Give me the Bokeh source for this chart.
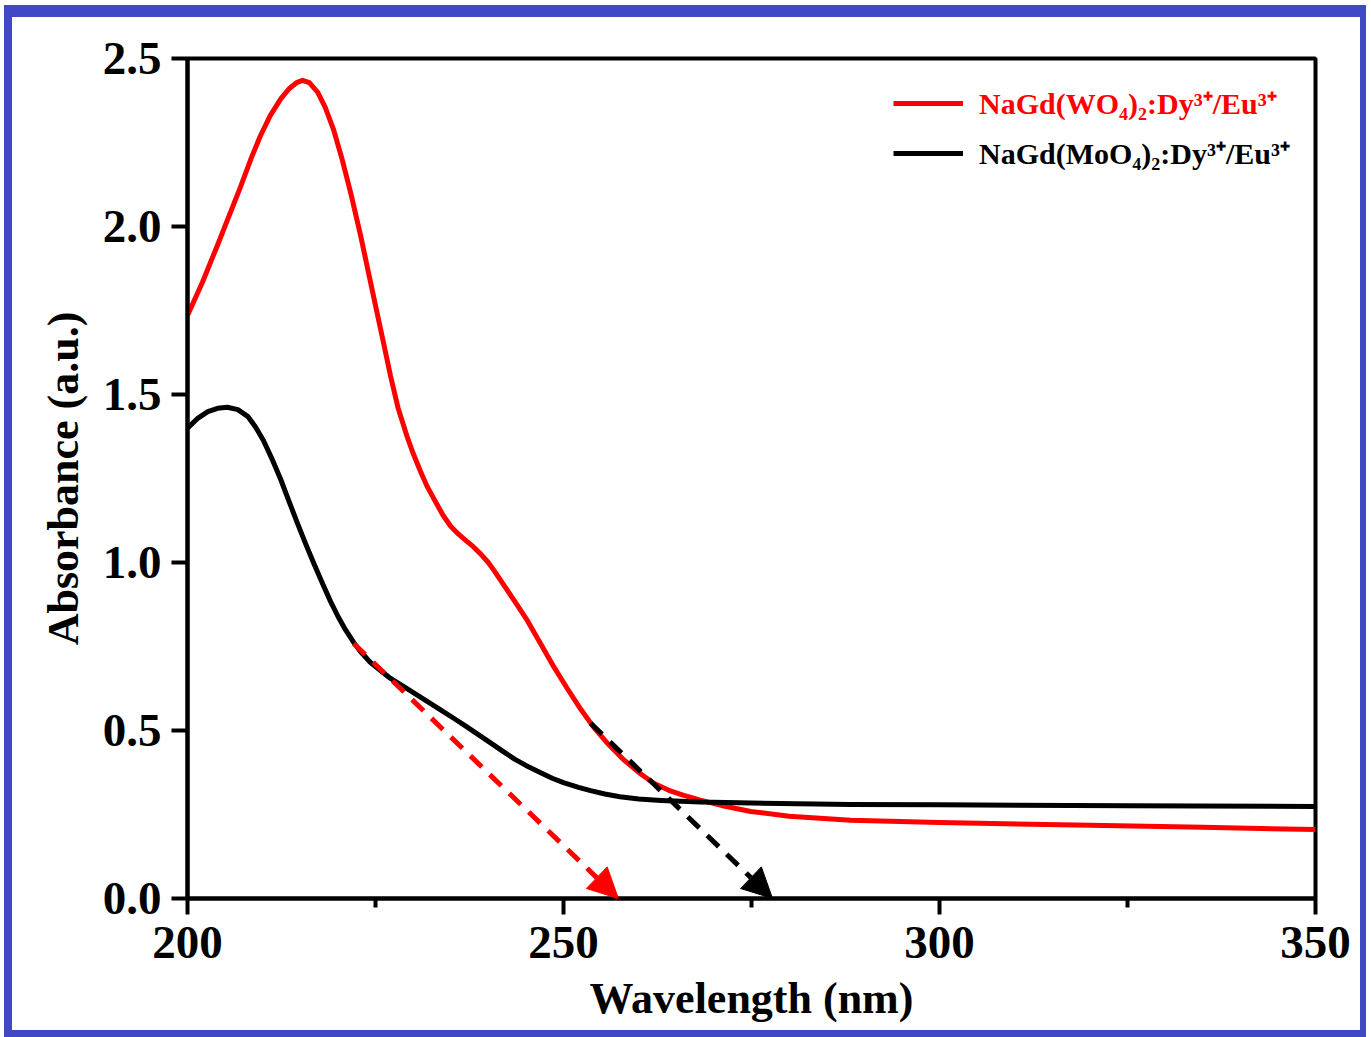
from bokeh.plotting import figure
from bokeh.models import (ColumnDataSource, Range1d, Legend, LegendItem, Arrow,
                          NormalHead, FixedTicker, NumeralTickFormatter)
from bokeh.embed import file_html
from bokeh.resources import INLINE

# ---------------- data ----------------
wl_w = [200.0, 202.0, 204.0, 205.5, 207.0, 208.5, 209.7, 211.0, 212.4, 213.5,
        214.5, 215.3, 216.2, 217.3, 218.3, 219.4, 220.5, 221.7, 223.0, 224.0,
        225.0, 226.1, 227.0, 228.0, 229.2, 230.0, 231.0, 231.9, 233.0, 234.0,
        235.0, 236.0, 237.0, 238.0, 239.0, 240.0, 240.8, 241.6, 243.5, 245.2,
        247.0, 248.7, 250.5, 252.3, 254.0, 255.8, 258.0, 260.2, 262.0, 264.0,
        266.0, 268.2, 271.0, 274.9, 280.0, 288.2, 300.0, 320.0, 335.0, 350.0]
abs_w = [1.735, 1.835, 1.945, 2.03, 2.115, 2.205, 2.27, 2.33, 2.38, 2.41,
         2.428, 2.435, 2.428, 2.40, 2.355, 2.29, 2.205, 2.10, 1.975, 1.87,
         1.765, 1.65, 1.555, 1.46, 1.375, 1.325, 1.27, 1.225, 1.18, 1.14,
         1.108, 1.085, 1.066, 1.047, 1.025, 1.0, 0.975, 0.948, 0.885, 0.827,
         0.757, 0.69, 0.625, 0.563, 0.51, 0.463, 0.413, 0.372, 0.343, 0.322,
         0.307, 0.293, 0.277, 0.259, 0.245, 0.233, 0.226, 0.218, 0.212, 0.205]

wl_mo = [200.0, 201.3, 202.7, 204.0, 205.3, 206.7, 208.0, 209.0, 210.1, 211.2,
         212.4, 213.5, 214.6, 215.7, 216.8, 218.0, 219.0, 220.0, 221.0, 222.1,
         223.0, 224.3, 225.7, 227.0, 229.3, 231.5, 233.6, 235.5, 237.0, 240.3,
         242.0, 243.5, 245.0, 246.9, 248.5, 250.0, 252.0, 253.6, 255.5, 257.5,
         260.0, 263.0, 268.2, 275.0, 288.2, 300.0, 325.0, 350.0]
abs_mo = [1.400, 1.428, 1.449, 1.459, 1.462, 1.455, 1.435, 1.405, 1.363, 1.31,
          1.247, 1.182, 1.118, 1.056, 0.997, 0.935, 0.885, 0.84, 0.80, 0.762,
          0.735, 0.703, 0.678, 0.655, 0.623, 0.592, 0.562, 0.535, 0.513, 0.463,
          0.437, 0.415, 0.396, 0.375, 0.358, 0.345, 0.331, 0.321, 0.311, 0.303,
          0.296, 0.292, 0.287, 0.284, 0.280, 0.279, 0.276, 0.274]

series_labels = ["NaGd(WO\u2084)\u2082:Dy\u00b3\u207a/Eu\u00b3\u207a",
                 "NaGd(MoO\u2084)\u2082:Dy\u00b3\u207a/Eu\u00b3\u207a"]
series_colors = ["#ff0000", "#000000"]

# tangent (band-gap extrapolation) arrows
arrow_x_start = [222.1, 253.6]
arrow_y_start = [0.759, 0.522]
arrow_x_end = [257.3, 277.8]
arrow_y_end = [0.0, 0.0]

x_ticks = [200, 250, 300, 350]
x_minor_ticks = [225, 275, 325]
y_ticks = [0.0, 0.5, 1.0, 1.5, 2.0, 2.5]

FONT = "Liberation Serif"

# ---------------- figure ----------------
p = figure(width=1348, height=1013, output_backend="svg", toolbar_location=None,
           x_range=Range1d(200, 350), y_range=Range1d(0, 2.5),
           min_border_left=175, min_border_right=59, min_border_top=41,
           min_border_bottom=151)
p.styles = {"box-sizing": "content-box",
            "border-left": "8px solid #4048c8", "border-right": "6px solid #4048c8",
            "border-top": "12px solid #4048c8", "border-bottom": "7px solid #4048c8",
            "margin-left": "4px", "margin-top": "5px"}
p.background_fill_color = "white"
p.border_fill_color = "white"
p.grid.visible = False
p.outline_line_color = "black"
p.outline_line_width = 4
p.outline_line_alpha = 1.0

src_w = ColumnDataSource(dict(x=wl_w, y=abs_w))
src_mo = ColumnDataSource(dict(x=wl_mo, y=abs_mo))
r_w = p.line("x", "y", source=src_w, line_color=series_colors[0], line_width=5,
             line_join="round")
r_mo = p.line("x", "y", source=src_mo, line_color=series_colors[1], line_width=5,
              line_join="round")

for i in range(2):
    head = NormalHead(size=30, fill_color=series_colors[i], line_color=series_colors[i],
                      line_width=1)
    p.add_layout(Arrow(end=head, x_start=arrow_x_start[i], y_start=arrow_y_start[i],
                       x_end=arrow_x_end[i], y_end=arrow_y_end[i],
                       line_color=series_colors[i], line_width=5, line_dash="16 11"))

# axes
for ax in (p.xaxis[0], p.yaxis[0]):
    ax.axis_line_width = 4
    ax.major_tick_line_width = 4
    ax.minor_tick_line_width = 4
    ax.major_tick_in = 0
    ax.major_tick_out = 16
    ax.minor_tick_in = 0
    ax.minor_tick_out = 9
    ax.major_label_text_font = FONT
    ax.major_label_text_font_style = "bold"
    ax.major_label_text_font_size = "47px"
    ax.major_label_text_color = "black"
    ax.axis_label_text_font = FONT
    ax.axis_label_text_font_style = "bold"
    ax.axis_label_text_font_size = "44px"
    ax.axis_label_text_color = "black"

p.xaxis.ticker = FixedTicker(ticks=x_ticks, minor_ticks=x_minor_ticks)
p.yaxis.ticker = FixedTicker(ticks=y_ticks)
p.yaxis.minor_tick_line_color = None
p.yaxis.formatter = NumeralTickFormatter(format="0.0")
p.xaxis.axis_label = "Wavelength (nm)"
p.yaxis.axis_label = "Absorbance (a.u.)"
p.xaxis.major_label_standoff = 12
p.yaxis.major_label_standoff = 10
p.xaxis.axis_label_standoff = 13
p.yaxis.axis_label_standoff = 12

# legends (one per series so each label can take its own colour)
legend_locs = [(706, 775), (706, 725)]
renderers = [r_w, r_mo]
for i in range(2):
    lg = Legend(items=[LegendItem(label=series_labels[i], renderers=[renderers[i]])],
                location=legend_locs[i], padding=0, margin=0, spacing=0,
                glyph_width=70, glyph_height=30, label_height=30, label_standoff=16,
                border_line_color=None, background_fill_alpha=0,
                label_text_font=FONT, label_text_font_style="bold",
                label_text_font_size="30px", label_text_color=series_colors[i])
    p.add_layout(lg)

open("out.html", "w").write(file_html(p, INLINE))
